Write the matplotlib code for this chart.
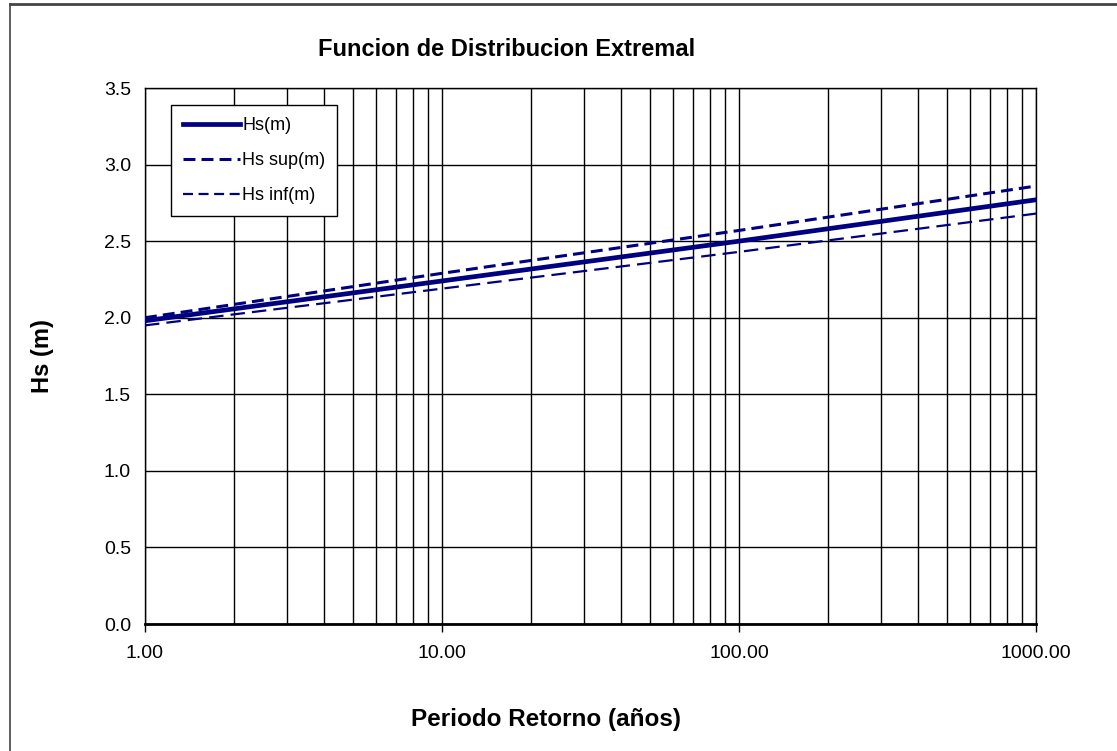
import matplotlib.pyplot as plt
from matplotlib.lines import Line2D
from matplotlib.ticker import FixedLocator, LogLocator, NullFormatter

plt.rcParams['font.family'] = ['Liberation Sans', 'DejaVu Sans']

# Periodo de retorno (años) y alturas de ola
periodo = [1, 10, 100, 1000]
hs = [1.98, 2.24, 2.50, 2.77]
hs_sup = [2.00, 2.29, 2.57, 2.86]
hs_inf = [1.95, 2.19, 2.43, 2.68]

azul = '#000080'
estilo_sup = (0, (3.9, 2.0))
estilo_inf = (0, (6.5, 3.2))

fig = plt.figure(figsize=(11.17, 7.51), dpi=100)
ax = fig.add_axes([0.1298, 0.1691, 0.7977, 0.7137])

ax.plot(periodo, hs, color=azul, lw=3.4, label='Hs(m)', zorder=3)
ax.plot(periodo, hs_sup, color=azul, lw=2.2, ls=estilo_sup, label='Hs sup(m)', zorder=3)
ax.plot(periodo, hs_inf, color=azul, lw=1.6, ls=estilo_inf, label='Hs inf(m)', zorder=3)

ax.set_xscale('log')
ax.set_xlim(1, 1000)
ax.set_ylim(0, 3.5)
ax.xaxis.set_major_locator(FixedLocator([1, 10, 100, 1000]))
ax.xaxis.set_major_formatter(plt.FuncFormatter(lambda v, p: f'{v:.2f}'))
ax.xaxis.set_minor_locator(LogLocator(base=10, subs=range(2, 10)))
ax.xaxis.set_minor_formatter(NullFormatter())
ax.set_yticks([0.5 * i for i in range(8)])
ax.yaxis.set_major_formatter(plt.FuncFormatter(lambda v, p: f'{v:.1f}'))

ax.grid(True, which='both', axis='x', color='black', lw=1.0)
ax.grid(True, which='major', axis='y', color='black', lw=1.0)
ax.tick_params(axis='x', which='major', direction='out', length=6, width=1, labelsize=14, pad=9)
ax.tick_params(axis='x', which='minor', length=0)
ax.tick_params(axis='y', length=0, labelsize=14, pad=10)
for s in ax.spines.values():
    s.set_color('black')
    s.set_linewidth(1.0)
ax.spines['bottom'].set_linewidth(2.0)

ax.set_title('Funcion de Distribucion Extremal', fontsize=17, fontweight='bold', pad=23, x=0.406)
ax.set_xlabel('Periodo Retorno (años)', fontsize=17.5, fontweight='bold', labelpad=33, x=0.45)
ax.set_ylabel('Hs (m)', fontsize=17, fontweight='bold', labelpad=36)

handles = [
    Line2D([], [], color=azul, lw=3.4),
    Line2D([], [], color=azul, lw=2.2, ls=estilo_sup),
    Line2D([], [], color=azul, lw=1.6, ls=(0, (4.5, 2.5))),
]
leg = ax.legend(handles, ['Hs(m)', 'Hs sup(m)', 'Hs inf(m)'], loc='upper left',
                bbox_to_anchor=(0.029, 0.968), fontsize=13, fancybox=False,
                framealpha=1, edgecolor='black', handlelength=3.2,
                handletextpad=0.1, labelspacing=1.0, borderpad=0.65, borderaxespad=0)
leg.get_frame().set_linewidth(1.0)

# marco de la figura
fig.add_artist(Line2D([0.009, 1.0], [0.995, 0.995], transform=fig.transFigure, color='#444444', lw=2))
fig.add_artist(Line2D([0.009, 0.009], [0.0, 0.995], transform=fig.transFigure, color='#444444', lw=1.2))

fig.savefig('out.png', dpi=100)
